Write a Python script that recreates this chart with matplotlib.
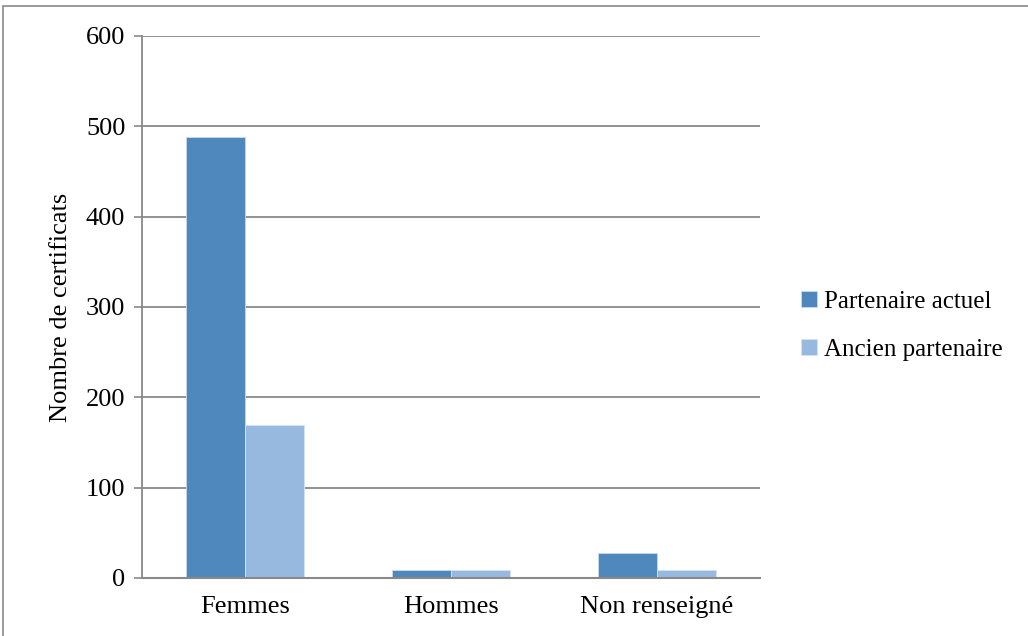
import matplotlib
matplotlib.use("Agg")
import matplotlib.pyplot as plt
import numpy as np
from matplotlib.patches import Rectangle

categories = ["Femmes", "Hommes", "Non renseigné"]
actuel = [488, 9, 28]
ancien = [169, 9, 9]
series_labels = ["Partenaire actuel", "Ancien partenaire"]
y_ticks = [0, 100, 200, 300, 400, 500, 600]

plt.rcParams["font.family"] = ["Liberation Serif", "DejaVu Serif"]
fs = 19

fig = plt.figure(figsize=(10.28, 6.36), dpi=100)
ax = fig.add_axes([0.1381, 0.0912, 0.6012, 0.8522])

# outer chart frame
fig.patches.append(Rectangle((3 / 1028, -0.1), 1.2, 630 / 636 + 0.1, transform=fig.transFigure,
                             fill=False, edgecolor="#898989", linewidth=1.2))

x = np.arange(len(categories))
w = 0.2857
c_dark = "#4F88BD"
c_light = "#97B9E0"
ax.bar(x - w / 2, actuel, w, color=c_dark, edgecolor="#C9DAEE", linewidth=0.6,
       label=series_labels[0], zorder=3)
ax.bar(x + w / 2, ancien, w, color=c_light, edgecolor="#D6E3F3", linewidth=0.6,
       label=series_labels[1], zorder=3)

ax.set_xlim(-0.5, 2.5)
ax.set_ylim(0, 600)
ax.set_yticks(y_ticks)
ax.set_xticks(x)
ax.set_xticklabels(categories, fontsize=fs)
ax.tick_params(axis="y", labelsize=fs, length=6, width=1.2, color="#898989", direction="out", pad=6)
ax.tick_params(axis="x", length=0, pad=13)
ax.yaxis.grid(True, color="#898989", linewidth=1.3)
ax.set_axisbelow(True)

for side in ["top", "right"]:
    ax.spines[side].set_visible(False)
ax.spines["left"].set_color("#898989")
ax.spines["left"].set_linewidth(1.3)
ax.spines["bottom"].set_color("#898989")
ax.spines["bottom"].set_linewidth(1.5)
ax.spines["bottom"].set_zorder(4)

ax.set_ylabel("Nombre de certificats", fontsize=fs, labelpad=10)

leg = ax.legend(loc="center left", bbox_to_anchor=(1.03, 0.465), frameon=False,
                fontsize=18, handlelength=0.62, handleheight=0.62, handletextpad=0.3,
                labelspacing=1.05)

fig.savefig("out.png", dpi=100)
